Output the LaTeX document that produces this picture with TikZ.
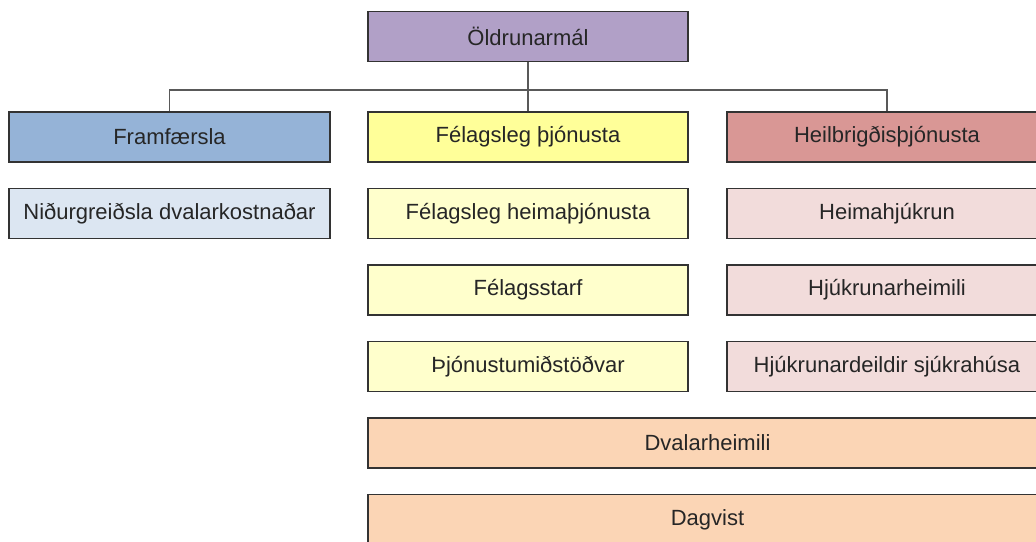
\documentclass[tikz,border=0pt]{standalone}
\usepackage{fontspec}
\setmainfont{Liberation Sans}
\usepackage{tikz}
\usetikzlibrary{positioning}
\definecolor{topcol}{HTML}{B1A0C7}
\definecolor{fincol}{HTML}{95B3D7}
\definecolor{finlight}{HTML}{DCE6F2}
\definecolor{soccol}{HTML}{FFFF99}
\definecolor{soclight}{HTML}{FFFFCC}
\definecolor{healcol}{HTML}{D99795}
\definecolor{heallight}{HTML}{F2DCDB}
\definecolor{bothcol}{HTML}{FBD5B5}
\tikzstyle{box} = [draw=black!80, line width=1.5pt, rectangle, align=center,
    minimum height=50pt, minimum width=320pt, inner sep=0pt, text=black!85,
    font=\fontsize{22}{26}\selectfont]
\tikzstyle{conn} = [draw=black!65, line width=1.2pt]

\begin{document}
\begin{tikzpicture}[x=1pt,y=-1pt]
    \useasboundingbox (0,0) rectangle (1036,541);
    \clip (0,0) rectangle (1036,541);
    \node[box, fill=topcol] (top) at (528,36.5) {Öldrunarmál};
    % first row
    \node[box, fill=fincol, minimum width=321pt] (fin) at (169.5,137) {Framfærsla};
    \node[box, fill=soccol] (soc) at (528,137) {Félagsleg þjónusta};
    \node[box, fill=healcol] (heal) at (887,137) {Heilbrigðisþjónusta};
    % columns
    \node[box, fill=finlight, minimum width=321pt] (fin1) at (169.5,213.5) {Niðurgreiðsla dvalarkostnaðar};
    \node[box, fill=soclight] (soc1) at (528,213.5) {Félagsleg heimaþjónusta};
    \node[box, fill=soclight] (soc2) at (528,290) {Félagsstarf};
    \node[box, fill=soclight] (soc3) at (528,366.5) {Þjónustumiðstöðvar};
    \node[box, fill=heallight] (heal1) at (887,213.5) {Heimahjúkrun};
    \node[box, fill=heallight] (heal2) at (887,290) {Hjúkrunarheimili};
    \node[box, fill=heallight] (heal3) at (887,366.5) {Hjúkrunardeildir sjúkrahúsa};
    % shared
    \node[box, fill=bothcol, minimum width=679pt] (both1) at (707.5,443) {Dvalarheimili};
    \node[box, fill=bothcol, minimum width=679pt] (both2) at (707.5,519.5) {Dagvist};
    % connectors
    \coordinate (bar) at (528,90);
    \draw[conn] (top.south) -- (soc.north);
    \draw[conn] (fin.north) -- (fin.north |- bar) -- (heal.north |- bar) -- (heal.north);
\end{tikzpicture}
\end{document}
